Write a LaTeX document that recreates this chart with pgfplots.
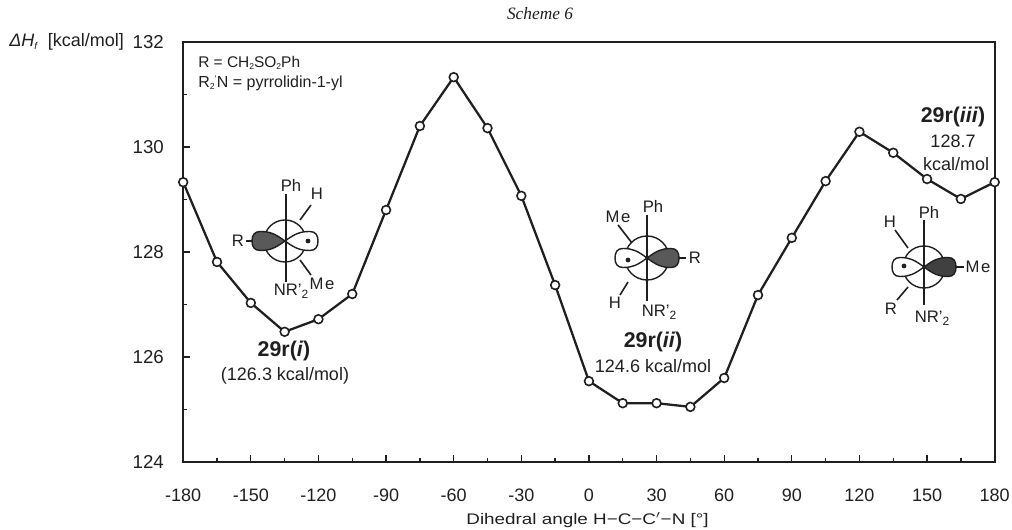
\documentclass[border=0pt]{standalone}
\usepackage{fontspec}
\setmainfont{Liberation Sans}
\newfontfamily\serifit{Liberation Serif}
\usepackage{pgfplots}
\pgfplotsset{compat=1.18}
\definecolor{ink}{gray}{0.12}
\newcommand{\fs}[1]{\fontsize{#1}{#1}\selectfont}
\newcommand{\sub}[1]{\raisebox{-0.3ex}{\scalebox{0.55}{#1}}}
\newcommand{\subb}[1]{\raisebox{-0.35ex}{\scalebox{0.72}{#1}}}
% lobe: #1 = length (signed, px), #2 = half-height, options in #3
\newcommand{\lobe}[3]{\draw[line width=1.05pt,ink,#3] (0,0) .. controls (0.3*#1,-0.75*#2) and (0.45*#1,-#2) .. (0.75*#1,-#2) .. controls (0.93*#1,-#2) and (#1,-0.6*#2) .. (#1,0) .. controls (#1,0.6*#2) and (0.93*#1,#2) .. (0.75*#1,#2) .. controls (0.45*#1,#2) and (0.3*#1,0.75*#2) .. (0,0) -- cycle;}
\begin{document}
\begin{tikzpicture}
\path[use as bounding box] (0,0) rectangle (759pt,397.5pt);
\begin{axis}[
  at={(137.4pt,51pt)}, anchor=south west,
  scale only axis, width=608.6pt, height=315pt,
  xmin=-180, xmax=180, ymin=124, ymax=132,
  xtick={-180,-150,-120,-90,-60,-30,0,30,60,90,120,150,180},
  ytick={124,126,128,130,132},
  minor x tick num=1, minor y tick num=1,
  xtick pos=bottom, ytick pos=left, tick align=inside,
  major tick length=5pt, minor tick length=3.2pt,
  axis line style={line width=1.4pt,ink},
  tick style={line width=1pt,ink},
  /pgf/number format/assume math mode=true,
  /pgf/number format/fixed,
  /pgf/number format/1000 sep={},
  xticklabel style={font=\fs{13.5},text=ink,yshift=-16.5pt},
  yticklabel style={font=\fs{14},text=ink,xshift=-11pt},
  clip=false,
]
\addplot[ink,line width=1.7pt,mark=*,mark size=3.3pt,
  mark options={fill=white,draw=ink,line width=1.2pt}] coordinates {
(-180,129.33)(-165,127.81)(-150,127.03)(-135,126.48)(-120,126.72)(-105,127.20)
(-90,128.80)(-75,130.40)(-60,131.33)(-45,130.36)(-30,129.07)(-15,127.37)
(0,125.54)(15,125.12)(30,125.12)(45,125.05)(60,125.60)(75,127.18)
(90,128.27)(105,129.35)(120,130.29)(135,129.89)(150,129.39)(165,129.01)(180,129.33)};
\end{axis}
\begin{scope}[x=0.75pt,y=-0.75pt,shift={(0pt,397.5pt)},every node/.style={text=ink,inner sep=0pt}]
% texts
\node[font=\serifit\itshape\fs{13}] at (540,14) {Scheme 6};
\node[anchor=west,font=\fs{13.5}] at (9,42) {\textit{ΔH}\sub{\textit{f}}\ \ [kcal/mol]};
\node[anchor=west,font=\fs{11.6}] at (198,63) {R = CH\sub{2}SO\sub{2}Ph};
\node[anchor=west,font=\fs{12}] at (198,83) {R\sub{2}\raisebox{0.6ex}{\scalebox{0.6}{'}}N = pyrrolidin-1-yl};
\node[font=\fs{11.5}] at (587.5,520) {\scalebox{1.23}[1]{Dihedral angle H−C−C$'$−N [°]}};
\node[font=\bfseries\fs{16}] at (284,351) {29r(\textit{i})};
\node[font=\fs{13.5}] at (285,376) {(126.3 kcal/mol)};
\node[font=\bfseries\fs{16}] at (653,342) {29r(\textit{ii})};
\node[font=\fs{13.5}] at (653,366) {124.6 kcal/mol};
\node[font=\bfseries\fs{16}] at (953,117) {29r(\textit{iii})};
\node[font=\fs{13.5}] at (953,141) {128.7};
\node[font=\fs{13.5}] at (956,164) {kcal/mol};
% Newman 1
\draw[line width=1.05pt,ink] (285,241) circle (21);
\begin{scope}[shift={(285,241)}]
\lobe{-33}{9.5}{fill=black!65}
\lobe{33}{9.5}{fill=white}
\fill[ink] (23,0) circle (2.4);
\end{scope}
\draw[line width=1.2pt,ink] (286,194) -- (286,282);
\draw[line width=1.2pt,ink] (300,220) -- (311,205);
\draw[line width=1.2pt,ink] (300,260) -- (311,275);
\draw[line width=1.2pt,ink] (246,241) -- (252,241);
\node[font=\fs{12.5}] at (291,185) {Ph};
\node[font=\fs{12.5}] at (317,194) {H};
\node[font=\fs{12.5}] at (238,241) {R};
\node[font=\fs{12.5}] at (291,291) {NR'\subb{2}};
\node[font=\fs{12.5}] at (322,284) {M\kern0.1em e};
% Newman 2
\draw[line width=1.05pt,ink] (647,258) circle (22);
\begin{scope}[shift={(647,258)}]
\lobe{32}{9.5}{fill=black!65}
\lobe{-32}{9.5}{fill=white}
\fill[ink] (-19,2) circle (2.4);
\end{scope}
\draw[line width=1.2pt,ink] (647,215) -- (647,301);
\draw[line width=1.2pt,ink] (618,225) -- (632,243);
\draw[line width=1.2pt,ink] (628,282) -- (620,295);
\draw[line width=1.2pt,ink] (679,258) -- (686,258);
\node[font=\fs{12.5}] at (653,206) {Ph};
\node[font=\fs{12.5}] at (618,217) {M\kern0.1em e};
\node[font=\fs{12.5}] at (615,303) {H};
\node[font=\fs{12.5}] at (695,258) {R};
\node[font=\fs{12.5}] at (659,312) {NR'\subb{2}};
% Newman 3
\draw[line width=1.05pt,ink] (924,267) circle (21);
\begin{scope}[shift={(924,267)}]
\lobe{32}{9.5}{fill=black!75}
\lobe{-32}{9.5}{fill=white}
\fill[ink] (-20,-1) circle (2.4);
\end{scope}
\draw[line width=1.2pt,ink] (924,220) -- (924,305);
\draw[line width=1.2pt,ink] (895,230) -- (908,248);
\draw[line width=1.2pt,ink] (908,287) -- (897,300);
\draw[line width=1.2pt,ink] (956,267) -- (964,267);
\node[font=\fs{12.5}] at (929,212) {Ph};
\node[font=\fs{12.5}] at (890,222) {H};
\node[font=\fs{12.5}] at (891,309) {R};
\node[font=\fs{12.5}] at (932,318) {NR'\subb{2}};
\node[font=\fs{12.5}] at (978,267) {M\kern0.1em e};
\end{scope}
\end{tikzpicture}
\end{document}
